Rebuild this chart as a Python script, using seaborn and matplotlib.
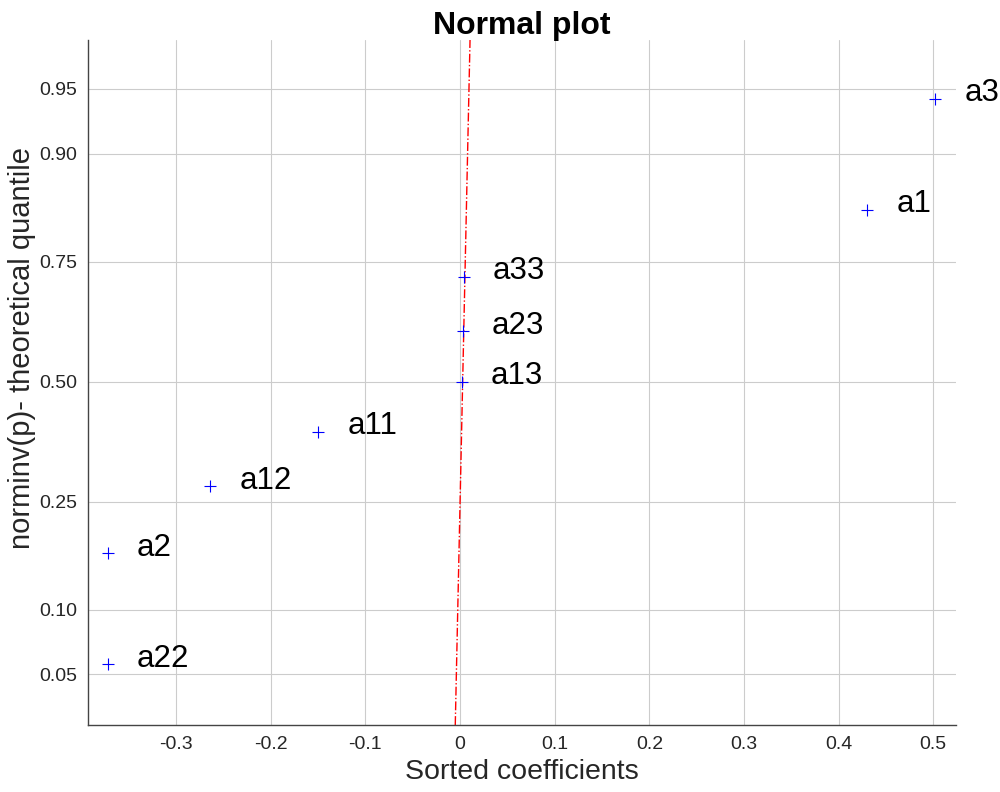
from statistics import NormalDist
import pandas as pd
import matplotlib
matplotlib.use("Agg")
import matplotlib.pyplot as plt
import seaborn as sns

# data
names = ["a22", "a2", "a12", "a11", "a13", "a23", "a33", "a1", "a3"]
coefs = [-0.372, -0.372, -0.264, -0.150, 0.002, 0.003, 0.004, 0.430, 0.502]
probs = [0.056, 0.167, 0.278, 0.389, 0.500, 0.611, 0.722, 0.833, 0.944]

# reference line (dash-dot red), end points
line_x = [-0.005, 0.0106]
line_p = [0.0268, 0.9726]

prob_ticks = [0.05, 0.10, 0.25, 0.50, 0.75, 0.90, 0.95]
x_ticks = [-0.3, -0.2, -0.1, 0, 0.1, 0.2, 0.3, 0.4, 0.5]

nd = NormalDist()
df = pd.DataFrame({"name": names, "coef": coefs,
                   "z": [nd.inv_cdf(p) for p in probs]})
line_df = pd.DataFrame({"x": line_x, "z": [nd.inv_cdf(p) for p in line_p]})

sns.set_style("white")
plt.rcParams["font.family"] = ["Liberation Sans", "DejaVu Sans"]

fig = plt.figure(figsize=(10, 7.92), dpi=100)
ax = fig.add_axes([0.088, 0.0846, 0.868, 0.865])

sns.lineplot(data=line_df, x="x", y="z", ax=ax, color="red",
             linestyle="-.", linewidth=1.0)
sns.scatterplot(data=df, x="coef", y="z", ax=ax, marker="+", s=80,
                color="blue", linewidth=0.8, zorder=3)

for _, r in df.iterrows():
    ax.annotate(r["name"], (r["coef"], r["z"]), xytext=(21, 4),
                textcoords="offset points", fontsize=22.5, va="center",
                color="black")

ax.set_xlim(-0.393, 0.524)
ax.set_ylim(-1.93, 1.92)
ax.set_xticks(x_ticks)
ax.set_xticklabels(["-0.3", "-0.2", "-0.1", "0", "0.1", "0.2", "0.3", "0.4", "0.5"])
ax.set_yticks([nd.inv_cdf(p) for p in prob_ticks])
ax.set_yticklabels([f"{p:.2f}" for p in prob_ticks])
ax.tick_params(direction="in", length=5, width=0.8, color="#444444",
               labelsize=14, labelcolor="#262626", pad=8)
ax.grid(True, color="#cccccc", linewidth=0.8)
ax.set_axisbelow(True)

for s in ["top", "right"]:
    ax.spines[s].set_visible(False)
for s in ["left", "bottom"]:
    ax.spines[s].set_color("#444444")
    ax.spines[s].set_linewidth(1.0)

ax.set_xlabel("Sorted coefficients", fontsize=20.5, color="#262626", labelpad=4)
ax.set_ylabel("norminv(p)- theoretical quantile", fontsize=21, color="#262626")
ax.yaxis.set_label_coords(-0.06, 0.55)
ax.set_title("Normal plot", fontsize=23, fontweight="bold", color="black", pad=4)

fig.savefig("out.png", dpi=100)
